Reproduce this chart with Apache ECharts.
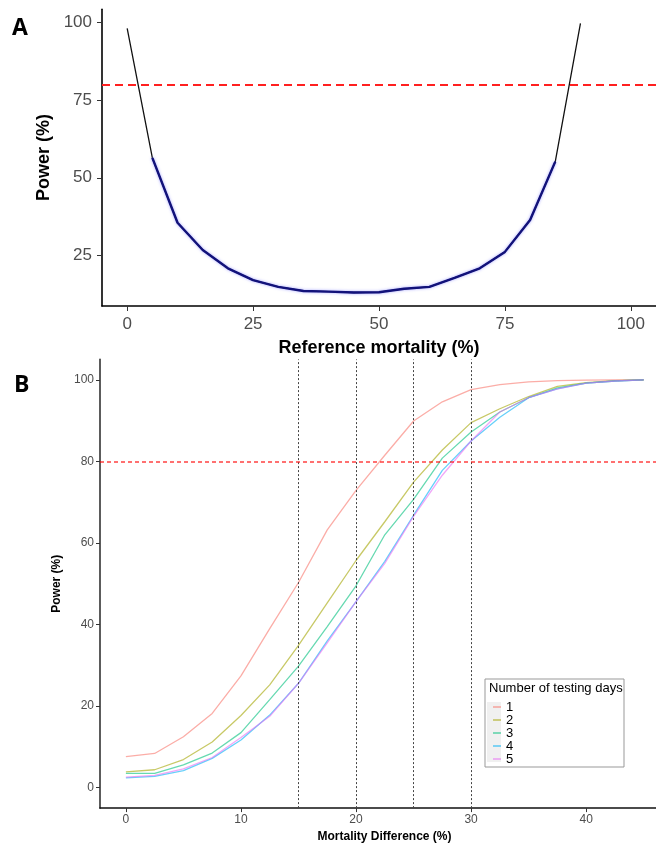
<!DOCTYPE html>
<html>
<head>
<meta charset="utf-8">
<script src="https://cdn.jsdelivr.net/npm/echarts@6/dist/echarts.min.js"></script>
<style>
  html, body { margin: 0; padding: 0; background: #fff; }
  #chart { width: 656px; height: 848px; }
</style>
</head>
<body>
<div id="chart"></div>
<script>
// panel A: power vs reference mortality
var refMortality = [0, 5, 10, 15, 20, 25, 30, 35, 40, 45, 50, 55, 60, 65, 70, 75, 80, 85, 90];
var powerA = [98.2, 56.4, 35.5, 26.7, 20.8, 17.0, 14.8, 13.5, 13.3, 13.0, 13.1, 14.2, 14.8, 17.7, 20.8, 26.1, 36.4, 55.2, 99.8];
var ticksA_x = [0, 25, 50, 75, 100];
var ticksA_y = [25, 50, 75, 100];

// panel B: power vs mortality difference, by number of testing days
var mortDiff = [0, 2.5, 5, 7.5, 10, 12.5, 15, 17.5, 20, 22.5, 25, 27.5, 30, 32.5, 35, 37.5, 40, 42.5, 45];
var days = ['1', '2', '3', '4', '5'];
var day1 = [7.6, 8.4, 12.5, 18.2, 27.4, 39.0, 50.3, 63.2, 72.9, 81.5, 89.9, 94.6, 97.6, 98.8, 99.5, 99.8, 99.9, 100, 100];
var day2 = [3.9, 4.4, 6.9, 11.2, 17.7, 25.2, 34.9, 45.3, 55.7, 65.2, 74.9, 82.8, 89.5, 92.9, 95.9, 98.4, 99.3, 99.8, 100];
var day3 = [3.5, 3.5, 5.6, 8.5, 13.5, 21.6, 29.8, 39.5, 49.5, 62.0, 70.7, 80.8, 87.2, 92.1, 95.6, 98.0, 99.2, 99.7, 100];
var day4 = [2.4, 2.8, 4.2, 7.2, 11.7, 17.8, 25.6, 36.0, 45.6, 55.5, 66.8, 77.8, 85.0, 90.8, 95.6, 97.8, 99.2, 99.7, 100];
var day5 = [2.6, 3.0, 4.6, 7.4, 12.3, 17.5, 25.6, 35.5, 45.6, 55.0, 66.5, 76.6, 85.0, 92.1, 95.6, 97.8, 99.2, 99.7, 100];
var dayValues = [day1, day2, day3, day4, day5];
var dayColors = ['rgba(248,118,109,0.6)', 'rgba(163,165,0,0.6)', 'rgba(0,191,125,0.6)', 'rgba(0,176,246,0.6)', 'rgba(231,107,243,0.6)'];
var cutoffs = [15, 20, 25, 30];
var target = 80;
var ticksB_x = [0, 10, 20, 30, 40];
var ticksB_y = [0, 20, 40, 60, 80, 100];

function zip(xs, ys) {
  return xs.map(function (x, i) { return [x, ys[i]]; });
}

var FONT = 'Liberation Sans';

var chart = echarts.init(document.getElementById('chart'));

var seriesB = days.map(function (d, i) {
  return {
    name: d,
    type: 'line',
    xAxisIndex: 1,
    yAxisIndex: 1,
    data: zip(mortDiff, dayValues[i]),
    symbol: 'none',
    color: dayColors[i],
    lineStyle: { width: 1.3, color: dayColors[i] },
    z: 3
  };
});

// 80% target line of panel B hangs on the first curve
seriesB[0].markLine = {
  silent: true,
  symbol: 'none',
  label: { show: false },
  lineStyle: { color: '#ff0000', type: [4, 3], width: 1.5, opacity: 0.75 },
  data: [{ yAxis: target }]
};

var option = {
  animation: false,
  textStyle: { fontFamily: FONT },
  grid: [
    { left: 102, right: 0, top: 9.2, bottom: 542 },
    { left: 100, right: 0, top: 359.4, bottom: 35.3 }
  ],
  xAxis: [
    {
      gridIndex: 0, type: 'value', min: -5, max: 105,
      name: 'Reference mortality (%)', nameLocation: 'middle', nameGap: 33,
      nameTextStyle: { fontSize: 18, fontWeight: 'bold', color: '#000' },
      axisLine: { onZero: false, lineStyle: { color: '#000', width: 1.6 } },
      axisTick: { customValues: ticksA_x, length: 5, lineStyle: { color: '#333' } },
      axisLabel: { customValues: ticksA_x, fontSize: 17, color: '#4d4d4d', margin: 10 },
      splitLine: { show: false }
    },
    {
      gridIndex: 1, type: 'value', min: -2.25, max: 46.07,
      name: 'Mortality Difference (%)', nameLocation: 'middle', nameGap: 21,
      nameTextStyle: { fontSize: 12, fontWeight: 'bold', color: '#000', padding: [0, 0, 0, 13] },
      axisLine: { onZero: false, lineStyle: { color: '#111', width: 1.6 } },
      axisTick: { customValues: ticksB_x, length: 4, lineStyle: { color: '#333' } },
      axisLabel: { customValues: ticksB_x, fontSize: 12, color: '#4d4d4d', margin: 6 },
      splitLine: { show: false }
    }
  ],
  yAxis: [
    {
      gridIndex: 0, type: 'value', min: 8.65, max: 104.35,
      name: 'Power (%)', nameLocation: 'middle', nameGap: 46,
      nameTextStyle: { fontSize: 18, fontWeight: 'bold', color: '#000' },
      axisLine: { show: true, onZero: false, lineStyle: { color: '#000', width: 1.6 } },
      axisTick: { show: true, customValues: ticksA_y, length: 5, lineStyle: { color: '#333' } },
      axisLabel: { customValues: ticksA_y, fontSize: 17, color: '#4d4d4d', margin: 10 },
      splitLine: { show: false }
    },
    {
      gridIndex: 1, type: 'value', min: -5, max: 105,
      name: 'Power (%)', nameLocation: 'middle', nameGap: 31,
      nameTextStyle: { fontSize: 12, fontWeight: 'bold', color: '#000' },
      axisLine: { show: true, onZero: false, lineStyle: { color: '#333', width: 1.6 } },
      axisTick: { show: true, customValues: ticksB_y, length: 4, lineStyle: { color: '#333' } },
      axisLabel: { customValues: ticksB_y, fontSize: 12, color: '#4d4d4d', margin: 6 },
      splitLine: { show: false }
    }
  ],
  legend: {
    data: days,
    orient: 'vertical',
    left: 493,
    top: 700.5,
    itemGap: 0,
    itemWidth: 8,
    itemHeight: 1.6,
    icon: 'rect',
    padding: 0,
    textStyle: { fontSize: 13, color: '#000', lineHeight: 12.5, fontFamily: FONT },
    z: 10
  },
  graphic: [
    { type: 'text', left: 12, top: 17, z: 10, style: { text: 'A', font: 'bold 23px "Open Sans"', fill: '#000' } },
    { type: 'text', left: 14, top: 374, z: 10, style: { text: 'B', font: 'bold 23px "Open Sans"', fill: '#000' } },
    { type: 'rect', z: 5, shape: { x: 485, y: 679, width: 139, height: 88 }, style: { fill: '#fff', stroke: '#999', lineWidth: 1 } },
    { type: 'rect', z: 6, shape: { x: 487, y: 702, width: 14, height: 60 }, style: { fill: '#f0f0f0' } },
    { type: 'text', z: 7, left: 489, top: 682, style: { text: 'Number of testing days', font: '13px "Liberation Sans"', fill: '#000' } }
  ],
  series: [
    {
      name: 'powerA',
      type: 'line',
      xAxisIndex: 0,
      yAxisIndex: 0,
      data: zip(refMortality, powerA),
      symbol: 'none',
      lineStyle: { color: '#111', width: 1.3 },
      z: 3,
      markLine: {
        silent: true,
        symbol: 'none',
        label: { show: false },
        lineStyle: { color: '#ff2020', type: [8, 5], width: 2 },
        data: [{ yAxis: target }]
      }
    },
    {
      name: 'powerA-band',
      type: 'line',
      xAxisIndex: 0,
      yAxisIndex: 0,
      data: zip(refMortality, powerA).slice(1, -1),
      symbol: 'none',
      lineStyle: { color: '#12127a', width: 2.4, shadowColor: 'rgba(90,90,255,0.55)', shadowBlur: 3 },
      z: 4
    },
    {
      name: 'cutoffLines',
      type: 'line',
      xAxisIndex: 1,
      yAxisIndex: 1,
      data: [],
      markLine: {
        silent: true,
        symbol: 'none',
        label: { show: false },
        lineStyle: { color: '#444', type: [2, 2], width: 1 },
        data: cutoffs.map(function (c) { return { xAxis: c }; })
      }
    }
  ].concat(seriesB)
};

chart.setOption(option);
window.addEventListener('resize', function () {
  chart.resize();
});
</script>
</body>
</html>
